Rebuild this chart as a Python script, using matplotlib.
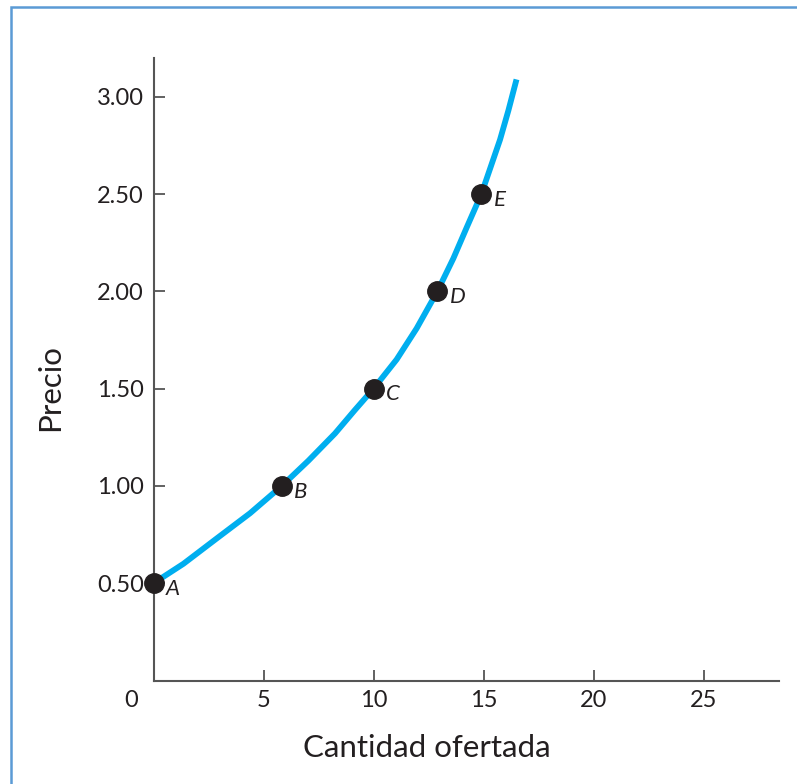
import matplotlib.pyplot as plt
from matplotlib.patches import Rectangle

# supply curve
curve_qty = [0, 1.36, 2.87, 4.39, 5.83, 7.04, 8.25, 9.15, 10.0, 11.05, 11.96, 12.9,
             13.63, 14.24, 14.9, 15.75, 16.13, 16.5]
curve_price = [0.5, 0.60, 0.73, 0.86, 1.0, 1.13, 1.27, 1.39, 1.5, 1.65, 1.81, 2.0,
               2.17, 2.33, 2.5, 2.78, 2.93, 3.09]

point_names = ['A', 'B', 'C', 'D', 'E']
point_qty = [0, 5.83, 10.0, 12.9, 14.9]
point_price = [0.5, 1.0, 1.5, 2.0, 2.5]

xticks = [5, 10, 15, 20, 25]
yticks = [0.5, 1.0, 1.5, 2.0, 2.5, 3.0]
ytick_labels = ['0.50', '1.00', '1.50', '2.00', '2.50', '3.00']

plt.rcParams['font.family'] = ['Lato', 'DejaVu Sans']

fig = plt.figure(figsize=(7.97, 7.84), dpi=100)
ax = fig.add_axes([0.1926, 0.132, 0.7848, 0.794])

ax.plot(curve_qty, curve_price, c='#00AEEF', lw=4.2, solid_capstyle='butt',
        solid_joinstyle='round', zorder=2)
ax.plot(point_qty, point_price, 'o', c='#231F20', ms=14, zorder=3, clip_on=False)
for name, q, p in zip(point_names, point_qty, point_price):
    ax.annotate(name, (q, p), xytext=(9, -4), textcoords='offset points',
                fontsize=16, style='italic', color='#231F20', va='center')

ax.set_xlim(0, 28.43)
ax.set_ylim(0, 3.2)
ax.set_xticks(xticks)
ax.set_yticks(yticks)
ax.set_yticklabels(ytick_labels)
for s in ['top', 'right']:
    ax.spines[s].set_visible(False)
for s in ['left', 'bottom']:
    ax.spines[s].set_color('#555555')
    ax.spines[s].set_linewidth(1.5)
ax.tick_params(direction='in', length=8, width=1.3, color='#555555',
               labelsize=17, labelcolor='#231F20', pad=7)
ax.annotate('0', (0, 0), xytext=(-16, -7), textcoords='offset points',
            ha='center', va='top', fontsize=17, color='#231F20')

ax.text(0.437, -0.1229, 'Cantidad ofertada', transform=ax.transAxes, fontsize=22.5,
        color='#231F20', ha='center', va='baseline')
ax.text(-0.1655, 0.471, 'Precio', transform=ax.transAxes, fontsize=22.5,
        color='#231F20', ha='center', va='center', rotation=90)

fig.patches.append(Rectangle((0.0134, -0.1), 1.2, 0.9907 + 0.1, transform=fig.transFigure,
                             fill=False, ec='#5B9BD5', lw=1.8, clip_on=False))

plt.savefig('out.png')
